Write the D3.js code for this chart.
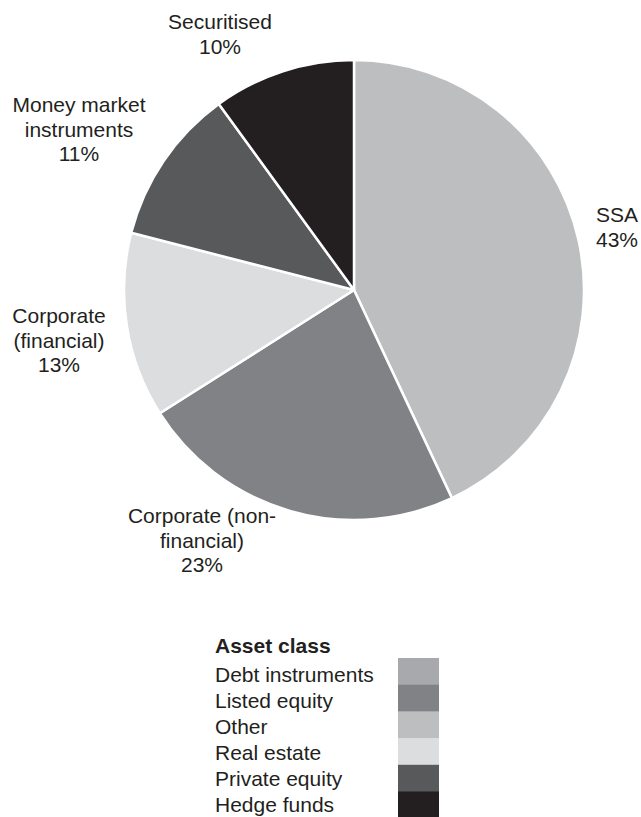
<!DOCTYPE html>
<html>
<head>
<meta charset="utf-8">
<script src="https://cdn.jsdelivr.net/npm/d3@7"></script>
<style>
  html, body { margin: 0; padding: 0; background: #ffffff; }
  svg { display: block; }
  text { font-family: "Liberation Sans", Arial, Helvetica, sans-serif; fill: #231f20; }
</style>
</head>
<body>
<svg id="chart" width="641" height="817"></svg>
<script>
// Holdings by debt instrument type (share of total, %)
const categories = ["SSA", "Corporate (non-financial)", "Corporate (financial)", "Money market instruments", "Securitised"];
const shares = [43, 23, 13, 11, 10];
const labelLines = [
  ["SSA", "43%"],
  ["Corporate (non-", "financial)", "23%"],
  ["Corporate", "(financial)", "13%"],
  ["Money market", "instruments", "11%"],
  ["Securitised", "10%"]
];
const sliceColors = ["#bcbec0", "#808285", "#dcdddf", "#58595b", "#231f20"];

// Asset class legend
const legendTitle = "Asset class";
const legendItems = ["Debt instruments", "Listed equity", "Other", "Real estate", "Private equity", "Hedge funds"];
const legendColors = ["#a7a9ac", "#808285", "#bcbec0", "#dcdddf", "#58595b", "#231f20"];

const svg = d3.select("#chart");
const cx = 354, cy = 290, radius = 230;
const fontSize = 21, lineH = 24.5;

const pie = d3.pie().sort(null).value(d => d.value);
const arcs = pie(categories.map((c, i) => ({ name: c, value: shares[i], color: sliceColors[i] })));
const arc = d3.arc().innerRadius(0).outerRadius(radius);

const g = svg.append("g").attr("transform", `translate(${cx},${cy})`);
g.selectAll("path.slice")
  .data(arcs)
  .join("path")
  .attr("class", "slice")
  .attr("d", arc)
  .attr("fill", d => d.data.color)
  .attr("stroke", "#ffffff")
  .attr("stroke-width", 2.5)
  .attr("stroke-linejoin", "round");

// Label anchors (centre x, first baseline) placed around the pie
const labelAnchors = [
  [617, 222],
  [202, 523],
  [59, 323],
  [79, 112],
  [220, 29]
];
labelLines.forEach((lines, i) => {
  const t = svg.append("text")
    .attr("text-anchor", "middle")
    .attr("font-size", fontSize);
  lines.forEach((ln, j) => {
    t.append("tspan")
      .attr("x", labelAnchors[i][0])
      .attr("y", labelAnchors[i][1] + j * lineH)
      .text(ln);
  });
});

// Legend
const lx = 215, ly = 653, rowH = 26.7, swX = 398, swW = 41, swTop = 658;
const textRow = 26.1, textBase = 681.5;
svg.append("text")
  .attr("x", lx).attr("y", ly)
  .attr("font-size", fontSize)
  .attr("font-weight", "bold")
  .text(legendTitle);

const band = d3.scaleBand().domain(legendItems).range([swTop, swTop + rowH * legendItems.length]).padding(0);
const leg = svg.append("g");
leg.selectAll("rect")
  .data(legendItems)
  .join("rect")
  .attr("x", swX)
  .attr("y", d => band(d))
  .attr("width", swW)
  .attr("height", band.bandwidth() + 0.5)
  .attr("fill", (d, i) => legendColors[i]);
leg.selectAll("text")
  .data(legendItems)
  .join("text")
  .attr("x", lx)
  .attr("y", (d, i) => textBase + i * textRow)
  .attr("font-size", fontSize)
  .text(d => d);
</script>
</body>
</html>
